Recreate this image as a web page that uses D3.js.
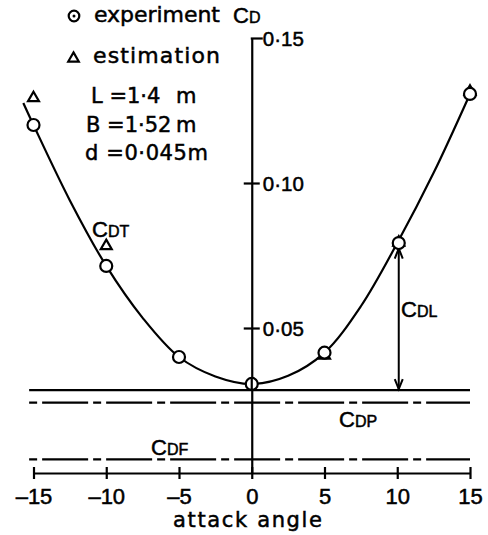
<!DOCTYPE html>
<html><head><meta charset="utf-8">
<script src="https://cdn.jsdelivr.net/npm/d3@7"></script>
<style>body{margin:0;background:#fff}svg{display:block}text{stroke:#000;stroke-width:0.5px;fill:#000}</style>
</head><body>
<svg id="chart" width="488" height="535"></svg>
<script>
// ---- data ----
const angles = [-15, -10, -5, 0, 5, 10, 15];
const experimentCD = [0.1200, 0.0714, 0.0400, 0.0307, 0.0415, 0.0793, 0.1307];
const estimationAngles = [-15, -10, 5, 10, 15];
const estimationCD = [0.1293, 0.0783, 0.0405, 0.0795, 0.1315];
const curveAngles = [-15.7, -15, -12.5, -10, -7.5, -5, -2.5, 0, 2.5, 5, 7.5, 10, 12.5, 15];
const curveCD = [0.1276, 0.1200, 0.0940, 0.0714, 0.0535, 0.0400, 0.0333, 0.0307, 0.0335, 0.0415, 0.0575, 0.0793, 0.1035, 0.1307];
const xTicks = [-15, -10, -5, 0, 5, 10, 15];
const xTickLabels = ["\u201315", "\u201310", "\u20135", "0", "5", "10", "15"];
const yTicks = [0.05, 0.10, 0.15];
const yTickLabels = ["0\u00b705", "0\u00b710", "0\u00b715"];
const levelTotal = 0.0286;   // solid line (CDP + CDF)
const levelCDP = 0.0243;     // dash-dot
const levelCDF = 0.0047;     // dash-dot
const lineAngleRange = [-15.3, 15.0];
const arrowAngle = 10;
const legendLabels = ["experiment", "estimation"];
const dimensionLabels = [["L =1\u00b74", "m"], ["B =1\u00b752", "m"], ["d =0\u00b7045m", ""]];

// ---- scales ----
const svg = d3.select("#chart");
const x = d3.scaleLinear().domain([-15, 15]).range([33.5, 470]);
const y = d3.scaleLinear().domain([0, 0.15]).range([473, 38]);
const SANS = "'Liberation Sans', Arial, sans-serif";
const DV = "'DejaVu Sans', sans-serif";

// ---- horizontal reference lines ----
svg.append("line").attr("x1", x(lineAngleRange[0])).attr("x2", x(lineAngleRange[1]))
  .attr("y1", y(levelTotal)).attr("y2", y(levelTotal))
  .attr("stroke", "#000").attr("stroke-width", 2.2);
[levelCDP, levelCDF].forEach(v => {
  svg.append("line").attr("x1", x(lineAngleRange[0])).attr("x2", x(lineAngleRange[1]))
    .attr("y1", y(v)).attr("y2", y(v))
    .attr("stroke", "#000").attr("stroke-width", 2.2)
    .attr("stroke-dasharray", "8,5,46,5");
});

// ---- x axis ----
const xAxis = svg.append("g").attr("transform", `translate(0,${y(0)})`)
  .call(d3.axisBottom(x).tickValues(xTicks).tickSize(6).tickSizeOuter(0)
    .tickFormat((d, i) => xTickLabels[i]));
xAxis.select(".domain").attr("stroke-width", 2.2);
xAxis.selectAll(".tick line").attr("y1", -6).attr("y2", 6).attr("stroke-width", 2.2);
xAxis.selectAll(".tick text").attr("y", 31).attr("dy", 0)
  .attr("font-family", SANS).attr("font-size", 22).attr("fill", "#000");
xAxis.attr("font-family", null).attr("font-size", null);

// ---- y axis (at angle 0) ----
const yAxis = svg.append("g").attr("transform", `translate(${x(0)},0)`)
  .call(d3.axisRight(y).tickValues(yTicks).tickSize(8).tickSizeOuter(0)
    .tickFormat((d, i) => yTickLabels[i]));
yAxis.select(".domain").attr("stroke-width", 2.2);
yAxis.selectAll(".tick line").attr("x1", d => d === 0.15 ? -1 : -8).attr("x2", d => d === 0.15 ? 11 : 8)
  .attr("stroke-width", 2.2);
yAxis.selectAll(".tick text").attr("x", 11).attr("dy", "0.36em")
  .attr("font-family", SANS).attr("font-size", 20.5).attr("fill", "#000");
yAxis.attr("font-family", null).attr("font-size", null);

// ---- fitted curve ----
const curveData = curveAngles.map((a, i) => [a, curveCD[i]]);
svg.append("path").datum(curveData)
  .attr("d", d3.line().x(d => x(d[0])).y(d => y(d[1])).curve(d3.curveCatmullRom.alpha(0.5)))
  .attr("fill", "none").attr("stroke", "#000").attr("stroke-width", 2.2);

// ---- C_DL arrow ----
const ai = angles.indexOf(arrowAngle);
const ax = x(arrowAngle) + 1.5;
const aTop = y(experimentCD[ai]) + 5.5;
const aBot = y(levelTotal) - 1;
svg.append("line").attr("x1", ax).attr("x2", ax).attr("y1", aTop).attr("y2", aBot)
  .attr("stroke", "#000").attr("stroke-width", 2);
svg.append("path").attr("d", `M${ax - 4},${aTop + 10}L${ax},${aTop}L${ax + 4},${aTop + 10}`)
  .attr("fill", "none").attr("stroke", "#000").attr("stroke-width", 2);
svg.append("path").attr("d", `M${ax - 4},${aBot - 10}L${ax},${aBot}L${ax + 4},${aBot - 10}`)
  .attr("fill", "none").attr("stroke", "#000").attr("stroke-width", 2);

// ---- estimation triangles ----
const tri = d3.symbol().type(d3.symbolTriangle).size(52);
svg.selectAll(".est").data(estimationAngles.map((a, i) => [a, estimationCD[i]]))
  .enter().append("path").attr("class", "est")
  .attr("transform", d => `translate(${x(d[0]) + (d[0] === 10 ? 1.5 : 0)},${y(d[1])})`)
  .attr("d", tri).attr("fill", "#fff").attr("stroke", "#000").attr("stroke-width", 2.2);

// ---- experiment circles ----
svg.selectAll(".exp").data(angles.map((a, i) => [a, experimentCD[i]]))
  .enter().append("circle").attr("class", "exp")
  .attr("cx", d => x(d[0]) + (d[0] === 10 ? 1.5 : 0)).attr("cy", d => y(d[1])).attr("r", 6)
  .attr("fill", "#fff").attr("stroke", "#000").attr("stroke-width", 2.2);
// axis shows through the centre circle
svg.append("line").attr("x1", x(0)).attr("x2", x(0)).attr("y1", y(experimentCD[3]) - 7).attr("y2", y(experimentCD[3]) + 7)
  .attr("stroke", "#000").attr("stroke-width", 2.2);

// ---- legend ----
svg.append("circle").attr("cx", 74).attr("cy", 16).attr("r", 5.3)
  .attr("fill", "#fff").attr("stroke", "#000").attr("stroke-width", 2.2);
svg.append("circle").attr("cx", 74).attr("cy", 16).attr("r", 1.5).attr("fill", "#000");
svg.append("path").attr("transform", "translate(73.5,58.5)")
  .attr("d", d3.symbol().type(d3.symbolTriangle).size(48))
  .attr("fill", "#fff").attr("stroke", "#000").attr("stroke-width", 2.2);
svg.append("text").attr("x", 94).attr("y", 22).text(legendLabels[0])
  .attr("font-family", DV).attr("font-size", 22).attr("textLength", 126).attr("lengthAdjust", "spacing");
svg.append("text").attr("x", 93).attr("y", 63).text(legendLabels[1])
  .attr("font-family", DV).attr("font-size", 22).attr("textLength", 127).attr("lengthAdjust", "spacing");

// ---- dimensions ----
const dimX = [91, 86, 85], dimY = [103, 132, 160];
dimensionLabels.forEach((d, i) => {
  const t = svg.append("text").attr("x", dimX[i]).attr("y", dimY[i]).text(d[0])
    .attr("font-family", DV).attr("font-size", 21);
  if (i === 2) t.attr("textLength", 123).attr("lengthAdjust", "spacing");
  if (d[1]) svg.append("text").attr("x", 176).attr("y", dimY[i]).text(d[1])
    .attr("font-family", DV).attr("font-size", 21);
});

// ---- C labels ----
function cLabel(px, py, sub) {
  const t = svg.append("text").attr("x", px).attr("y", py).attr("font-family", SANS);
  t.append("tspan").attr("font-size", 22).text("C");
  t.append("tspan").attr("font-size", 16).text(sub);
}
cLabel(233, 23, "D");
cLabel(92, 237, "DT");
cLabel(401, 317, "DL");
cLabel(339, 427, "DP");
cLabel(151, 455, "DF");

// ---- x axis title ----
svg.append("text").attr("x", 247.5).attr("y", 527).attr("text-anchor", "middle")
  .attr("font-family", DV).attr("font-size", 21).attr("textLength", 149).attr("lengthAdjust", "spacing")
  .text("attack angle");
</script>
</body></html>
